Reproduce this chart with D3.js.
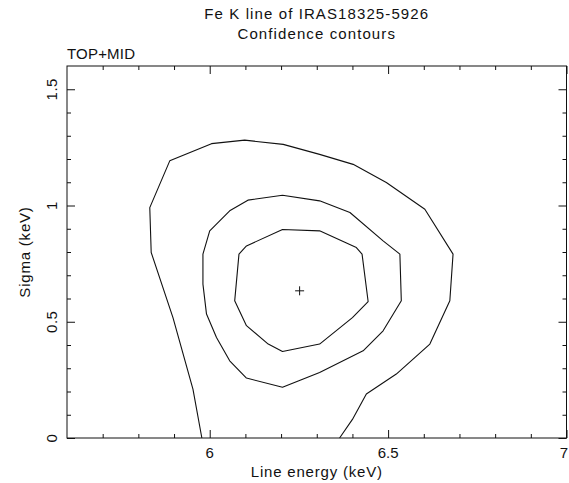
<!DOCTYPE html>
<html>
<head>
<meta charset="utf-8">
<script src="https://cdn.jsdelivr.net/npm/d3@7"></script>
<style>
  html, body { margin: 0; padding: 0; background: #fff; }
  svg { display: block; }
  text { font-family: "Liberation Sans", Arial, sans-serif; fill: #111; }
</style>
</head>
<body>
<svg id="chart" width="569" height="483"></svg>
<script>
// Fe K line fit: confidence contours in the (line energy, sigma) plane

const titleLines = ["Fe K line of IRAS18325-5926", "Confidence contours"];
const panelLabel = "TOP+MID";
const xLabel = "Line energy (keV)";
const yLabel = "Sigma (keV)";

const xDomain = [5.6, 7.0];
const yDomain = [0, 1.6];
const xMajorTicks = [6, 6.5, 7];
const xTickLabels = ["6", "6.5", "7"];
const yMajorTicks = [0, 0.5, 1, 1.5];
const yTickLabels = ["0", "0.5", "1", "1.5"];
const xMinorTicks = [5.7, 5.8, 5.9, 6.1, 6.2, 6.3, 6.4, 6.6, 6.7, 6.8, 6.9];
const yMinorTicks = [0.1, 0.2, 0.3, 0.4, 0.6, 0.7, 0.8, 0.9, 1.1, 1.2, 1.3, 1.4];

// best-fit position
const bestFit = [6.252, 0.633];

// innermost contour (closed)
const contourInner = [
  [6.204, 0.897], [6.308, 0.891], [6.411, 0.819], [6.427, 0.791],
  [6.444, 0.587], [6.400, 0.518], [6.308, 0.404], [6.204, 0.372],
  [6.164, 0.404], [6.103, 0.483], [6.070, 0.590], [6.082, 0.791],
  [6.103, 0.826], [6.204, 0.897]
];

// middle contour (closed)
const contourMiddle = [
  [6.204, 1.044], [6.308, 1.020], [6.393, 0.970], [6.486, 0.848],
  [6.533, 0.791], [6.537, 0.590], [6.486, 0.461], [6.430, 0.375],
  [6.308, 0.282], [6.204, 0.218], [6.103, 0.258], [6.056, 0.332],
  [6.019, 0.432], [5.991, 0.533], [5.981, 0.662], [5.981, 0.791],
  [6.000, 0.891], [6.056, 0.977], [6.107, 1.023], [6.204, 1.044]
];

// outer contour (open at sigma = 0)
const contourOuter = [
  [5.978, 0.000], [5.953, 0.210], [5.897, 0.518], [5.836, 0.798],
  [5.832, 0.991], [5.888, 1.192], [6.005, 1.266], [6.098, 1.281],
  [6.206, 1.263], [6.308, 1.220], [6.402, 1.177], [6.495, 1.099],
  [6.603, 0.984], [6.682, 0.791], [6.673, 0.590], [6.617, 0.404],
  [6.523, 0.275], [6.439, 0.189], [6.400, 0.080], [6.364, 0.000]
];

const contours = [contourOuter, contourMiddle, contourInner];

const margin = { left: 67, right: 2.5, top: 66, bottom: 45 };
const W = 569, H = 483;
const svg = d3.select("#chart");

const x = d3.scaleLinear().domain(xDomain).range([margin.left, W - margin.right]);
const y = d3.scaleLinear().domain(yDomain).range([H - margin.bottom, margin.top]);

const plotW = x.range()[1] - x.range()[0];
const plotH = y.range()[0] - y.range()[1];

// frame
svg.append("rect")
  .attr("x", x.range()[0]).attr("y", y.range()[1])
  .attr("width", plotW).attr("height", plotH)
  .attr("fill", "none").attr("stroke", "#111").attr("stroke-width", 1);

// inward ticks on all four sides
function tickAxis(axisFn, scale, values, size, transform) {
  const g = svg.append("g").attr("transform", transform)
    .call(axisFn(scale).tickValues(values).tickSize(-size).tickFormat(""));
  g.select(".domain").remove();
  g.selectAll(".tick line").attr("stroke", "#111").attr("stroke-width", 1);
}
const bottomY = y.range()[0], topY = y.range()[1];
const leftX = x.range()[0], rightX = x.range()[1];

tickAxis(d3.axisBottom, x, xMajorTicks, 8, `translate(0,${bottomY})`);
tickAxis(d3.axisBottom, x, xMinorTicks, 4, `translate(0,${bottomY})`);
tickAxis(d3.axisTop, x, xMajorTicks, 8, `translate(0,${topY})`);
tickAxis(d3.axisTop, x, xMinorTicks, 4, `translate(0,${topY})`);
tickAxis(d3.axisLeft, y, yMajorTicks, 8, `translate(${leftX},0)`);
tickAxis(d3.axisLeft, y, yMinorTicks, 4, `translate(${leftX},0)`);
tickAxis(d3.axisRight, y, yMajorTicks, 8, `translate(${rightX},0)`);
tickAxis(d3.axisRight, y, yMinorTicks, 4, `translate(${rightX},0)`);

// tick labels
const fs = 15;
svg.append("g").selectAll("text").data(xMajorTicks).join("text")
  .attr("x", d => Math.min(x(d), W - 5)).attr("y", bottomY + 20)
  .attr("text-anchor", "middle").attr("font-size", fs)
  .text((d, i) => xTickLabels[i]);

svg.append("g").selectAll("text").data(yMajorTicks).join("text")
  .attr("transform", d => `translate(${leftX - 10},${y(d)}) rotate(-90)`)
  .attr("text-anchor", "middle").attr("font-size", fs)
  .attr("letter-spacing", 0.5)
  .text((d, i) => yTickLabels[i]);

// axis titles
svg.append("text")
  .attr("x", (leftX + rightX) / 2).attr("y", bottomY + 39)
  .attr("text-anchor", "middle").attr("font-size", fs)
  .attr("letter-spacing", 0.8)
  .text(xLabel);

svg.append("text")
  .attr("transform", `translate(${leftX - 37},${(topY + bottomY) / 2}) rotate(-90)`)
  .attr("text-anchor", "middle").attr("font-size", fs)
  .attr("letter-spacing", 0.8)
  .text(yLabel);

// titles
titleLines.forEach((t, i) => {
  svg.append("text")
    .attr("x", (leftX + rightX) / 2).attr("y", 19 + i * 20)
    .attr("text-anchor", "middle").attr("font-size", fs)
    .attr("letter-spacing", 1.1)
    .text(t);
});

svg.append("text")
  .attr("x", leftX).attr("y", topY - 7.5)
  .attr("font-size", fs).attr("letter-spacing", 0.2)
  .text(panelLabel);

// contours
const line = d3.line().x(d => x(d[0])).y(d => y(d[1]));
svg.append("g").selectAll("path").data(contours).join("path")
  .attr("d", line)
  .attr("fill", "none").attr("stroke", "#111").attr("stroke-width", 1.1)
  .attr("stroke-linejoin", "round");

// best-fit marker
const arm = 4.5;
const bx = x(bestFit[0]), by = y(bestFit[1]);
svg.append("path")
  .attr("d", `M${bx - arm},${by}H${bx + arm}M${bx},${by - arm}V${by + arm}`)
  .attr("stroke", "#111").attr("stroke-width", 1);
</script>
</body>
</html>
